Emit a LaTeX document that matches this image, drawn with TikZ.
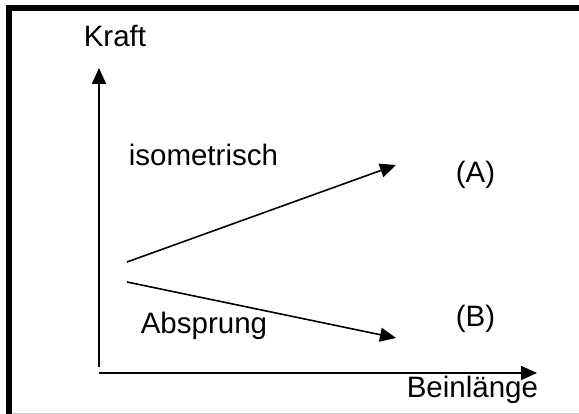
\documentclass[tikz,border=0pt]{standalone}
\usepackage{fontspec}
\setmainfont{Liberation Sans}
\usetikzlibrary{arrows.meta}

\begin{document}
\begin{tikzpicture}[x=1pt,y=-1pt,line width=1.6pt,-{Triangle[length=16pt,width=14pt]}]
    \tikzstyle{lbl}=[inner sep=0pt,anchor=base west,font=\fontsize{29.5}{35}\selectfont]
    \useasboundingbox (0,0) rectangle (579,414);

    % frame
    \draw[-,line width=6pt] (579,8) -- (9,8) -- (9,414);
    \draw[-,line width=1pt,black!20] (12,413) -- (579,413);

    % axes
    \coordinate (Fy0) at (99,367);
    \coordinate (Fy1) at (99,68);
    \coordinate (Lx0) at (99,373);
    \coordinate (Lx1) at (537,373);
    \draw (Fy0) -- (Fy1);
    \draw (Lx0) -- (Lx1);

    \node[lbl] (kraft) at (83,47) {Kraft};
    \node[lbl] (bein) at (406,398) {Beinlänge};
    \node[lbl] (iso) at (128,166) {isometrisch};
    \node[lbl] (absp) at (140,334) {Absprung};
    \node[lbl] (A) at (455,183) {(A)};
    \node[lbl] (B) at (455,327) {(B)};

    \foreach \name/\y/\ty in {up/262/165, down/282/338} {
        \coordinate (\name-s) at (127,\y);
        \coordinate (\name-e) at (396,\ty);
        \draw (\name-s) -- (\name-e);
    }
\end{tikzpicture}
\end{document}
